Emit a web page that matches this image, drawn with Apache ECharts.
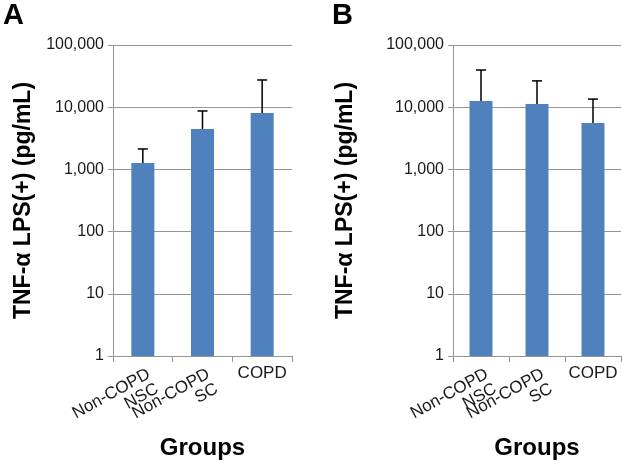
<!DOCTYPE html>
<html><head><meta charset="utf-8">
<script src="https://cdn.jsdelivr.net/npm/echarts/dist/echarts.min.js"></script>
<style>html,body{margin:0;padding:0;background:#fff}#c{width:622px;height:464px}</style>
</head><body><div id="c"></div>
<script>
const categories = ['Non-COPD\nNSC', 'Non-COPD\nSC', 'COPD'];
const meanA = [1270, 4460, 8100];
const errTopA = [2130, 8700, 27400];
const meanB = [12600, 11300, 5570];
const errTopB = [39600, 26500, 13500];
const panelLabels = ['A', 'B'];
const yTitle = 'TNF-α LPS(+) (pg/mL)';
const xTitle = 'Groups';
const yMin = 1, yMax = 100000;

const FONT = '"Liberation Sans", Arial, Helvetica, sans-serif';
const BAR = '#4F81BD';
const GRID = '#959595';

function fmt(v) {
  return String(Math.round(v)).replace(/\B(?=(\d{3})+(?!\d))/g, ',');
}

const grids = [
  { left: 113, top: 45, width: 179, height: 311, containLabel: false, outerBoundsMode: 'none' },
  { left: 453, top: 45, width: 168, height: 311, containLabel: false, outerBoundsMode: 'none' }
];
const yNameGaps = [78, 96];
const means = [meanA, meanB];
const errs = [errTopA, errTopB];

const xAxes = [], yAxes = [], series = [];
grids.forEach((g, gi) => {
  xAxes.push({
    type: 'category', gridIndex: gi, data: categories,
    axisLine: { lineStyle: { color: GRID, width: 1 } },
    axisTick: { show: true, length: 6, lineStyle: { color: GRID } },
    axisLabel: {
      interval: 0, rotate: 29, margin: 6, fontSize: 17, fontFamily: FONT, color: '#1a1a1a', lineHeight: 17,
      verticalAlign: 'top', padding: [4, 0, 0, 0],
      formatter: (v, i) => (i === categories.length - 1 ? '' : v)
    },
    name: xTitle, nameLocation: 'middle', nameGap: 80, nameMoveOverlap: false,
    nameTextStyle: { fontSize: 24, fontWeight: 'bold', fontFamily: FONT, color: '#000' }
  });
  xAxes.push({
    type: 'category', gridIndex: gi, data: categories, position: 'bottom',
    axisLine: { show: false }, axisTick: { show: false }, splitLine: { show: false },
    axisLabel: {
      interval: 0, rotate: 0, margin: 9, fontSize: 17, fontFamily: FONT, color: '#1a1a1a',
      formatter: (v, i) => (i === categories.length - 1 ? v : '')
    }
  });
  yAxes.push({
    type: 'log', logBase: 10, gridIndex: gi, min: yMin, max: yMax, splitNumber: 5,
    axisLine: { show: true, lineStyle: { color: GRID, width: 1 } },
    axisTick: { show: true, length: 5, lineStyle: { color: GRID } },
    splitLine: { show: true, lineStyle: { color: GRID, width: 1 } },
    axisLabel: { fontSize: 16, fontFamily: FONT, color: '#1a1a1a', margin: 9, formatter: fmt },
    name: yTitle, nameLocation: 'middle', nameRotate: 90, nameGap: yNameGaps[gi], nameMoveOverlap: false,
    nameTextStyle: { fontSize: 23, fontWeight: 'bold', fontFamily: FONT, color: '#000' }
  });
  series.push({
    type: 'bar', xAxisIndex: gi * 2, yAxisIndex: gi, data: means[gi],
    barWidth: 23, itemStyle: { color: BAR }, silent: true
  });
  series.push({
    type: 'custom', xAxisIndex: gi * 2, yAxisIndex: gi, z: 5, silent: true,
    encode: { x: 0, y: [1, 2] },
    data: means[gi].map((m, i) => [i, m, errs[gi][i]]),
    renderItem: function (params, api) {
      const x = api.value(0);
      const p0 = api.coord([x, api.value(1)]);
      const p1 = api.coord([x, api.value(2)]);
      const hw = 5;
      const st = { stroke: '#000', lineWidth: 1.5 };
      return {
        type: 'group', children: [
          { type: 'line', shape: { x1: p0[0], y1: p0[1], x2: p1[0], y2: p1[1] }, style: st },
          { type: 'line', shape: { x1: p1[0] - hw, y1: p1[1], x2: p1[0] + hw, y2: p1[1] }, style: st }
        ]
      };
    }
  });
});

const chart = echarts.init(document.getElementById('c'), null, { renderer: 'canvas' });
chart.setOption({
  animation: false,
  backgroundColor: '#fff',
  title: [
    { text: panelLabels[0], left: 1, top: -1, padding: 2, textStyle: { fontSize: 29, fontWeight: 'bold', fontFamily: FONT, color: '#000' } },
    { text: panelLabels[1], left: 330, top: -1, padding: 2, textStyle: { fontSize: 29, fontWeight: 'bold', fontFamily: FONT, color: '#000' } }
  ],
  grid: grids,
  xAxis: xAxes,
  yAxis: yAxes,
  series: series
});
</script>
</body></html>
